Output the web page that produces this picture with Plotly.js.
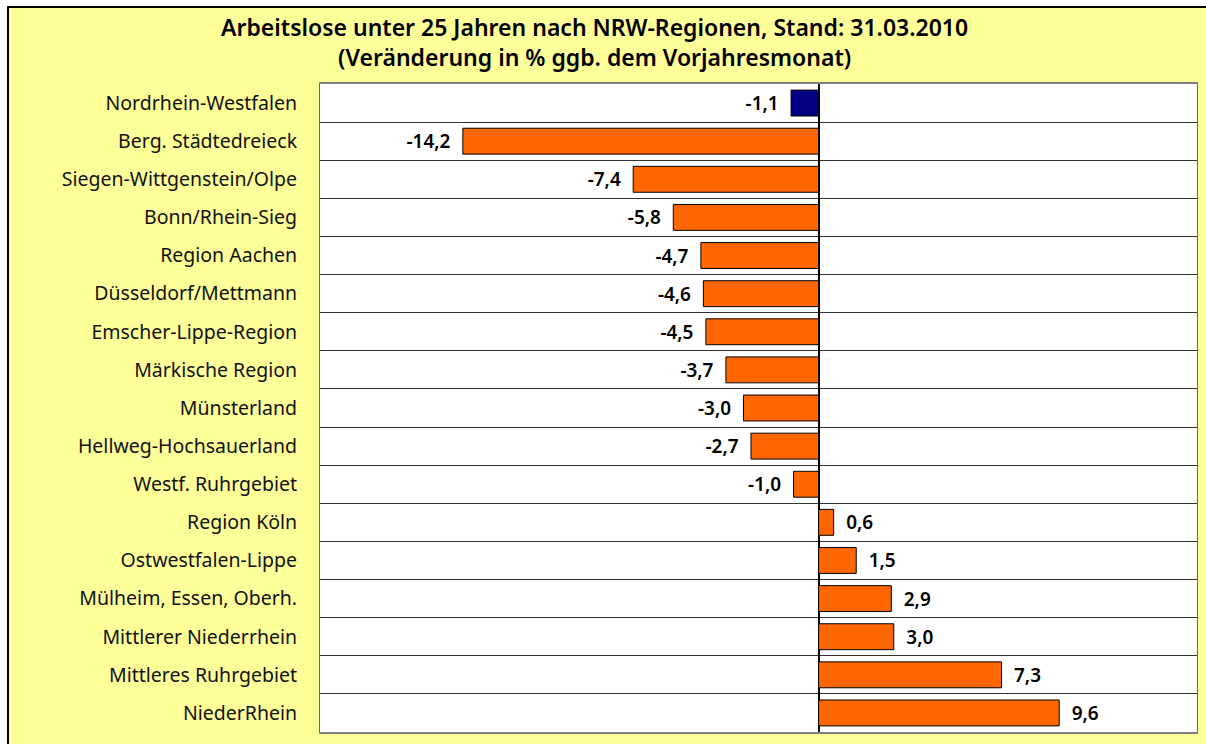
<!DOCTYPE html>
<html>
<head>
<meta charset="utf-8">
<script src="https://cdn.plot.ly/plotly-3.0.1.min.js"></script>
<style>
html,body{margin:0;padding:0;background:#ffffff;width:1206px;height:744px;overflow:hidden;}
#frame{position:absolute;left:7px;top:6px;width:1199px;height:738px;border-top:2px solid #000;border-left:2px solid #000;background:#FFFF99;box-sizing:border-box;}
#chart{position:absolute;left:0;top:0;width:1197px;height:736px;}
</style>
</head>
<body>
<div id="frame"><div id="chart"></div></div>
<script>
const regions = ["Nordrhein-Westfalen","Berg. Städtedreieck","Siegen-Wittgenstein/Olpe","Bonn/Rhein-Sieg","Region Aachen","Düsseldorf/Mettmann","Emscher-Lippe-Region","Märkische Region","Münsterland","Hellweg-Hochsauerland","Westf. Ruhrgebiet","Region Köln","Ostwestfalen-Lippe","Mülheim, Essen, Oberh.","Mittlerer Niederrhein","Mittleres Ruhrgebiet","NiederRhein"];
const changes = [-1.1,-14.2,-7.4,-5.8,-4.7,-4.6,-4.5,-3.7,-3.0,-2.7,-1.0,0.6,1.5,2.9,3.0,7.3,9.6];
const titleLines = ["Arbeitslose unter 25 Jahren nach NRW-Regionen, Stand: 31.03.2010","(Veränderung in % ggb. dem Vorjahresmonat)"];
const colors = regions.map((r,i)=> i===0 ? "#000080" : "#FF6600");
const templates = changes.map(v => v < 0 ? "%{x:.1f}\u2002" : "\u2002%{x:.1f}");

const trace = {
  type:"bar", orientation:"h",
  x: changes, y: regions,
  marker:{color:colors, line:{color:"#000000", width:1}},
  width:0.68,
  texttemplate:templates, textposition:"outside",
  textfont:{family:"Noto Sans, sans-serif", size:19, color:"#000", weight:600},
  cliponaxis:false,
  hoverinfo:"none"
};
const layout = {
  width:1197, height:736,
  margin:{l:311, r:9, t:76, b:12},
  paper_bgcolor:"#FFFF99", plot_bgcolor:"#FFFFFF",
  separators:",.",
  showlegend:false,
  annotations:[
    {text:titleLines.join("<br>"), xref:"paper", yref:"paper", x:0.313, y:1, yshift:42, xanchor:"center", yanchor:"middle", showarrow:false,
     font:{family:"Noto Sans, sans-serif", size:23, color:"#000", weight:600}}
  ],
  xaxis:{range:[-19.9,15.1], showticklabels:false, showgrid:false, ticks:"",
    zeroline:true, zerolinecolor:"#000", zerolinewidth:2,
    showline:true, mirror:true, linecolor:"#808080", linewidth:2, fixedrange:true},
  yaxis:{type:"category", autorange:"reversed", tickson:"boundaries", showgrid:true,
    gridcolor:"#333333", gridwidth:1, ticks:"", ticklabelstandoff:18,
    tickfont:{family:"Noto Sans, sans-serif", size:19.5, color:"#111"},
    showline:true, mirror:true, linecolor:"#666666", linewidth:1, fixedrange:true}
};
Plotly.newPlot("chart",[trace],layout,{displayModeBar:false, staticPlot:true});
</script>
</body>
</html>
